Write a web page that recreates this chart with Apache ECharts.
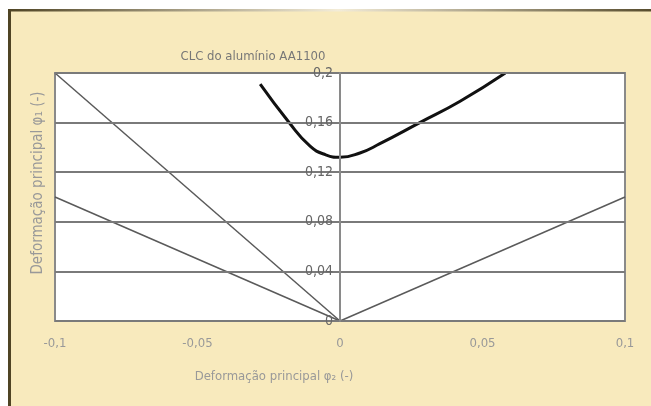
<!DOCTYPE html>
<html>
<head>
<meta charset="utf-8">
<script src="https://cdn.jsdelivr.net/npm/echarts@6/dist/echarts.min.js"></script>
<style>
  html, body { margin: 0; padding: 0; background: #fff; }
  #chart { width: 651px; height: 406px; }
</style>
</head>
<body>
<div id="chart"></div>
<script>
// forming limit curve
const flcX = [-0.028, -0.018, -0.0105, -0.005, 0, 0.007, 0.014, 0.028, 0.042, 0.058];
const flcY = [0.191, 0.1605, 0.141, 0.134, 0.132, 0.1355, 0.143, 0.160, 0.177, 0.200];

// straight strain paths through the origin
const steepPath = [[-0.1, 0.2], [0, 0]];
const shallowPath = [[-0.1, 0.1], [0, 0]];
const rightPath = [[0, 0], [0.1, 0.1]];

const xTicks = ['-0,1', '-0,05', '0', '0,05', '0,1'];
const yTicks = ['0', '0,04', '0,08', '0,12', '0,16', '0,2'];

const font = '"Liberation Sans Narrow", "DejaVu Sans Condensed", sans-serif';

const chart = echarts.init(document.getElementById('chart'));

const thinLine = (data) => ({
  type: 'line',
  data: data,
  showSymbol: false,
  silent: true,
  lineStyle: { color: '#5a5a5a', width: 1.5 },
  z: 3
});

chart.setOption({
  backgroundColor: '#fff',
  animation: false,
  graphic: [
    // cream panel with dark frame
    { type: 'rect', shape: { x: 8, y: 9, width: 660, height: 420 },
      style: { fill: '#f8eabd' }, z: -10 },
    { type: 'rect', shape: { x: 8, y: 9, width: 3, height: 420 },
      style: { fill: '#4f4424' }, z: -9 },
    { type: 'rect', shape: { x: 8, y: 9, width: 660, height: 2.5 },
      style: {
        fill: new echarts.graphic.LinearGradient(0, 0, 1, 0, [
          { offset: 0, color: '#4f4424' },
          { offset: 0.5, color: '#f3ecd8' },
          { offset: 1, color: '#4f4424' }
        ])
      }, z: -9 },
    { type: 'text', x: 253, y: 57,
      style: { text: 'CLC do alumínio AA1100', font: '13px ' + font,
               fill: '#777', textAlign: 'center', textVerticalAlign: 'middle' } },
    { type: 'text', x: 274, y: 377,
      style: { text: 'Deformação principal φ₂ (-)', font: '13px ' + font,
               fill: '#999', textAlign: 'center', textVerticalAlign: 'middle' } },
    { type: 'text', x: 38, y: 183, rotation: Math.PI / 2,
      style: { text: 'Deformação principal φ₁ (-)', font: '15px ' + font,
               fill: '#999', textAlign: 'center', textVerticalAlign: 'middle' } }
  ],
  grid: {
    left: 55, right: 26, top: 73, bottom: 85,
    show: true, backgroundColor: '#fff',
    borderColor: '#8a8a8a', borderWidth: 2
  },
  xAxis: {
    type: 'value', min: -0.1, max: 0.1, interval: 0.05,
    axisLine: { lineStyle: { color: '#8a8a8a', width: 2 } },
    axisTick: { show: false },
    splitLine: { show: false },
    axisLabel: {
      margin: 16, color: '#999', fontSize: 13, fontFamily: font,
      formatter: (v, i) => xTicks[i]
    }
  },
  yAxis: {
    type: 'value', min: 0, max: 0.2, interval: 0.04,
    position: 'left', offset: -285,
    axisLine: { onZero: false, lineStyle: { color: '#8a8a8a', width: 2 } },
    axisTick: { show: false },
    splitLine: { lineStyle: { color: '#7a7a7a', width: 2 } },
    axisLabel: {
      margin: 7, color: '#666', fontSize: 14, fontFamily: font,
      formatter: (v, i) => yTicks[i]
    },
    z: 5
  },
  series: [
    thinLine(steepPath),
    thinLine(shallowPath),
    thinLine(rightPath),
    {
      type: 'line',
      data: flcX.map((x, i) => [x, flcY[i]]),
      smooth: true,
      showSymbol: false,
      lineStyle: { color: '#111', width: 3 },
      z: 4
    }
  ]
});
</script>
</body>
</html>
